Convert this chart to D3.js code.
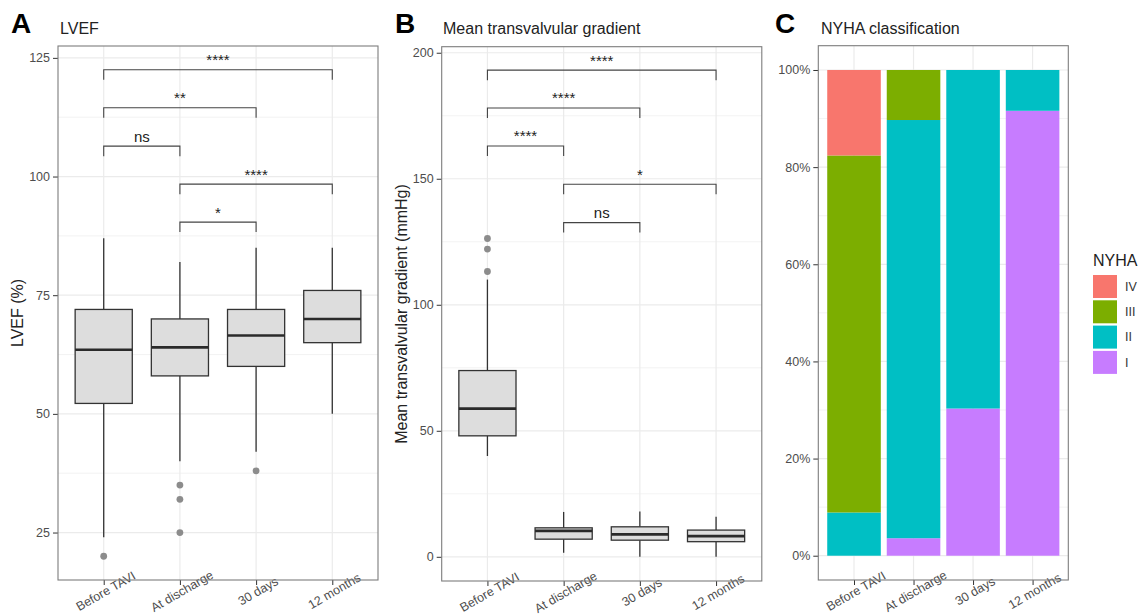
<!DOCTYPE html>
<html><head><meta charset="utf-8">
<script src="https://cdn.jsdelivr.net/npm/d3@7"></script>
<style>
body{margin:0;background:#fff;}
text{font-family:"Liberation Sans",Arial,sans-serif;}
</style></head>
<body><svg id="chart" width="1138" height="615"></svg>
<script>
// ---------------- DATA ----------------
const categories = ["Before TAVI", "At discharge", "30 days", "12 months"];

// Panel A: LVEF (%)
const lvefLow     = [24, 40, 42, 50];
const lvefQ1      = [52.2, 58, 60, 65];
const lvefMedian  = [63.5, 64, 66.5, 70];
const lvefQ3      = [72, 70, 72, 76];
const lvefHigh    = [87, 82, 85, 85];
const lvefOutliers = [[20], [35, 32, 25], [38], []];
const lvefTicks   = [25, 50, 75, 100, 125];
const lvefBrackets = [
  {from: 0, to: 3, y: 122.5, label: "****"},
  {from: 0, to: 2, y: 114.5, label: "**"},
  {from: 0, to: 1, y: 106.4, label: "ns"},
  {from: 1, to: 3, y: 98.4,  label: "****"},
  {from: 1, to: 2, y: 90.4,  label: "*"}
];

// Panel B: Mean transvalvular gradient (mmHg)
const gradLow     = [40, 1.6, 0, 0];
const gradQ1      = [48, 7, 6.6, 6];
const gradMedian  = [58.8, 10.3, 8.9, 8.2];
const gradQ3      = [73.9, 11.5, 11.9, 10.6];
const gradHigh    = [110, 17.8, 18, 15.9];
const gradOutliers = [[126.3, 122.1, 113.2], [], [], []];
const gradTicks   = [0, 50, 100, 150, 200];
const gradBrackets = [
  {from: 0, to: 3, y: 193.1, label: "****"},
  {from: 0, to: 2, y: 178.1, label: "****"},
  {from: 0, to: 1, y: 163.0, label: "****"},
  {from: 1, to: 3, y: 147.8, label: "*"},
  {from: 1, to: 2, y: 132.6, label: "ns"}
];

// Panel C: NYHA classification (% of patients)
const nyhaClasses = ["IV", "III", "II", "I"];
const nyhaColors  = ["#F8766D", "#7CAE00", "#00BFC4", "#C77CFF"];
const nyhaI   = [0, 3.6, 30.3, 91.6];
const nyhaII  = [8.9, 86.1, 69.7, 8.4];
const nyhaIII = [73.5, 10.3, 0, 0];
const nyhaIV  = [17.6, 0, 0, 0];
const nyhaTicks = [0, 20, 40, 60, 80, 100];

// ---------------- DRAW ----------------
const svg = d3.select("#chart");
const GRID = "#EBEBEB", BORDER = "#7d7d7d", TICKTXT = "#4D4D4D";

function makePanel(x0, x1, yb, yt, domain, ticks, fmt) {
  // ggplot discrete expansion: 0.6 units each side
  const unit = (x1 - x0) / (categories.length + 0.2);
  const x = d3.scalePoint().domain(categories).range([x0 + 0.6 * unit, x1 - 0.6 * unit]);
  const y = d3.scaleLinear().domain(domain).range([yb, yt]);
  return {x, x0, x1, yb, yt, unit, y, ticks, fmt};
}

function panelFrame(p) {
  const g = svg.append("g");
  const t = p.ticks;
  const minors = [];
  for (let i = 0; i < t.length - 1; i++) minors.push((t[i] + t[i + 1]) / 2);
  g.selectAll(".minor").data(minors).join("line")
    .attr("x1", p.x0).attr("x2", p.x1)
    .attr("y1", d => p.y(d)).attr("y2", d => p.y(d))
    .attr("stroke", GRID).attr("stroke-width", 0.6);
  g.selectAll(".major").data(t).join("line")
    .attr("x1", p.x0).attr("x2", p.x1)
    .attr("y1", d => p.y(d)).attr("y2", d => p.y(d))
    .attr("stroke", GRID).attr("stroke-width", 1.2);
  g.selectAll(".vmajor").data(categories).join("line")
    .attr("x1", d => p.x(d)).attr("x2", d => p.x(d))
    .attr("y1", p.yb).attr("y2", p.yt)
    .attr("stroke", GRID).attr("stroke-width", 1.2);
}

function panelAxes(p) {
  const ya = svg.append("g").attr("transform", `translate(${p.x0},0)`)
    .call(d3.axisLeft(p.y).tickValues(p.ticks).tickSize(5).tickPadding(3).tickFormat(p.fmt));
  ya.select(".domain").remove();
  ya.selectAll(".tick line").attr("stroke", "#333").attr("stroke-width", 1);
  ya.selectAll(".tick text").attr("fill", TICKTXT).style("font-size", "12.5px")
    .style("font-family", "'Liberation Sans', Arial, sans-serif");
  const xa = svg.append("g").attr("transform", `translate(0,${p.yb})`)
    .call(d3.axisBottom(p.x).tickSize(5).tickFormat(""));
  xa.select(".domain").remove();
  xa.selectAll(".tick line").attr("stroke", "#333").attr("stroke-width", 1);
  svg.append("g").selectAll("text").data(categories).join("text")
    .attr("transform", d => `translate(${p.x(d) + 2},${p.yb + 11}) rotate(-30)`)
    .attr("text-anchor", "middle").attr("dy", "0.35em")
    .attr("fill", TICKTXT).style("font-size", "12.5px").text(d => d);
  svg.append("rect").attr("x", p.x0).attr("y", p.yt).attr("width", p.x1 - p.x0).attr("height", p.yb - p.yt)
    .attr("fill", "none").attr("stroke", BORDER).attr("stroke-width", 1.1);
}

function boxPanel(p, low, q1, med, q3, high, outl, brackets) {
  panelFrame(p);
  const g = svg.append("g");
  const bw = p.unit * 0.75;
  const rows = categories.map((c, i) => ({c, low: low[i], q1: q1[i], med: med[i], q3: q3[i], high: high[i], out: outl[i]}));
  g.selectAll(".wu").data(rows).join("line")
    .attr("x1", d => p.x(d.c)).attr("x2", d => p.x(d.c))
    .attr("y1", d => p.y(d.q3)).attr("y2", d => p.y(d.high))
    .attr("stroke", "#333").attr("stroke-width", 1.3);
  g.selectAll(".wl").data(rows).join("line")
    .attr("x1", d => p.x(d.c)).attr("x2", d => p.x(d.c))
    .attr("y1", d => p.y(d.q1)).attr("y2", d => p.y(d.low))
    .attr("stroke", "#333").attr("stroke-width", 1.3);
  g.selectAll(".box").data(rows).join("rect")
    .attr("x", d => p.x(d.c) - bw / 2).attr("width", bw)
    .attr("y", d => p.y(d.q3)).attr("height", d => p.y(d.q1) - p.y(d.q3))
    .attr("fill", "#DDDDDD").attr("stroke", "#333").attr("stroke-width", 1.3);
  g.selectAll(".med").data(rows).join("line")
    .attr("x1", d => p.x(d.c) - bw / 2).attr("x2", d => p.x(d.c) + bw / 2)
    .attr("y1", d => p.y(d.med)).attr("y2", d => p.y(d.med))
    .attr("stroke", "#2a2a2a").attr("stroke-width", 2.6);
  const pts = rows.flatMap(d => d.out.map(v => ({c: d.c, v})));
  g.selectAll(".out").data(pts).join("circle")
    .attr("cx", d => p.x(d.c)).attr("cy", d => p.y(d.v)).attr("r", 3.4)
    .attr("fill", "#8c8c8c");
  const tip = 10;
  const bg = svg.append("g");
  brackets.forEach(b => {
    const xa = p.x(categories[b.from]), xb = p.x(categories[b.to]), yy = p.y(b.y);
    bg.append("path").attr("d", `M${xa},${yy + tip}V${yy}H${xb}V${yy + tip}`)
      .attr("fill", "none").attr("stroke", "#444").attr("stroke-width", 1.1);
    bg.append("text").attr("x", (xa + xb) / 2).attr("y", yy - 4.5)
      .attr("text-anchor", "middle").attr("fill", "#222").style("font-size", "15px").text(b.label);
  });
  panelAxes(p);
}

// Panel A
const pA = makePanel(58, 378, 580, 46, [15.0, 127.5], lvefTicks, d3.format("d"));
boxPanel(pA, lvefLow, lvefQ1, lvefMedian, lvefQ3, lvefHigh, lvefOutliers, lvefBrackets);

// Panel B
const pB = makePanel(441.7, 761.8, 581, 46.7, [-9.6, 202.4], gradTicks, d3.format("d"));
boxPanel(pB, gradLow, gradQ1, gradMedian, gradQ3, gradHigh, gradOutliers, gradBrackets);

// Panel C
const pC = makePanel(818.3, 1068.3, 580, 45.7, [-5, 105], nyhaTicks, d => d + "%");
panelFrame(pC);
const stackRows = categories.map((c, i) => ({c, I: nyhaI[i], II: nyhaII[i], III: nyhaIII[i], IV: nyhaIV[i]}));
const stack = d3.stack().keys(["I", "II", "III", "IV"])(stackRows);
const colorOf = d3.scaleOrdinal().domain(nyhaClasses).range(nyhaColors);
const barW = pC.unit * 0.9;
svg.append("g").selectAll("g").data(stack).join("g")
  .attr("fill", s => colorOf(s.key))
  .selectAll("rect").data(s => s.filter(d => d[1] > d[0])).join("rect")
  .attr("x", d => pC.x(d.data.c) - barW / 2).attr("width", barW)
  .attr("y", d => pC.y(d[1])).attr("height", d => pC.y(d[0]) - pC.y(d[1]));
panelAxes(pC);

// Titles and labels
const titles = [
  {letter: "A", lx: 11, title: "LVEF", tx: 60},
  {letter: "B", lx: 395, title: "Mean transvalvular gradient", tx: 443},
  {letter: "C", lx: 775, title: "NYHA classification", tx: 821}
];
titles.forEach(t => {
  svg.append("text").attr("x", t.lx).attr("y", 33).style("font-size", "28px")
    .style("font-weight", "bold").attr("fill", "#000").text(t.letter);
  svg.append("text").attr("x", t.tx).attr("y", 34).style("font-size", "16px")
    .attr("fill", "#222").text(t.title);
});
svg.append("text").attr("transform", "translate(23,313) rotate(-90)").attr("text-anchor", "middle")
  .style("font-size", "16px").attr("fill", "#222").text("LVEF (%)");
svg.append("text").attr("transform", "translate(407,314) rotate(-90)").attr("text-anchor", "middle")
  .style("font-size", "16px").attr("fill", "#222").text("Mean transvalvular gradient (mmHg)");

// Legend
const lg = svg.append("g");
lg.append("text").attr("x", 1093).attr("y", 266).style("font-size", "16px").attr("fill", "#222").text("NYHA");
nyhaClasses.forEach((k, i) => {
  lg.append("rect").attr("x", 1093).attr("y", 275 + i * 25.3).attr("width", 24).attr("height", 23)
    .attr("fill", colorOf(k));
  lg.append("text").attr("x", 1125).attr("y", 275 + i * 25.3 + 11.5).attr("dy", "0.35em")
    .style("font-size", "12.5px").attr("fill", "#333").text(k);
});
</script>
</body></html>
